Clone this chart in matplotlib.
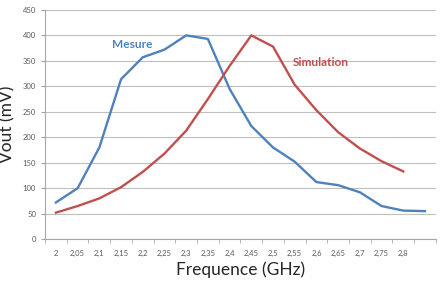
import matplotlib
matplotlib.use("Agg")
import matplotlib.pyplot as plt
import numpy as np

plt.rcParams["font.family"] = ["Lato", "DejaVu Sans"]

freq_labels = ['2', '2,05', '2,1', '2,15', '2,2', '2,25', '2,3', '2,35', '2,4', '2,45',
               '2,5', '2,55', '2,6', '2,65', '2,7', '2,75', '2,8', '']
mesure = [72, 100, 180, 314, 357, 372, 400, 393, 295, 222,
          180, 152, 112, 106, 92, 65, 56, 55]
simulation = [52, 65, 80, 102, 132, 168, 213, 275, 340, 400,
              378, 303, 253, 210, 178, 153, 133]

blue = '#4F81BD'
red = '#C0504D'

fig = plt.figure(figsize=(4.42, 2.83), dpi=100)
ax = fig.add_axes([0.102, 0.155, 0.884, 0.81])

x_m = np.arange(len(mesure))
x_s = np.arange(len(simulation))
ax.plot(x_m, mesure, color=blue, lw=1.7, solid_joinstyle='round')
ax.plot(x_s, simulation, color=red, lw=1.7, solid_joinstyle='round')

ax.set_xlim(-0.5, len(freq_labels) - 0.5)
ax.set_ylim(0, 450)
ax.set_yticks(np.arange(0, 451, 50))
ax.yaxis.grid(True, color='#BFBFBF', lw=0.8)
ax.set_axisbelow(True)

ax.set_xticks(np.arange(len(freq_labels)))
ax.set_xticklabels(freq_labels)
ax.set_xticks(np.arange(-0.5, len(freq_labels)), minor=True)
ax.tick_params(axis='x', which='major', length=0, labelsize=5.5, labelcolor='#595959', pad=8)
ax.tick_params(axis='x', which='minor', length=3, color='#A6A6A6', direction='out')
ax.tick_params(axis='y', length=3, color='#A6A6A6', labelsize=5.5, labelcolor='#595959')

for s in ['top', 'right']:
    ax.spines[s].set_visible(False)
for s in ['left', 'bottom']:
    ax.spines[s].set_color('#A6A6A6')
    ax.spines[s].set_linewidth(0.8)

ax.text(3.5, 382, 'Mesure', color=blue, fontsize=8.6, fontweight='bold', ha='center', va='center')
ax.text(12.2, 347, 'Simulation', color=red, fontsize=8.6, fontweight='bold', ha='center', va='center')

ax.set_xlabel('Frequence (GHz)', fontsize=12.5, color='#262626', labelpad=3)
ax.set_ylabel('Vout (mV)', fontsize=12.5, color='#262626', labelpad=5)

fig.savefig('out.png', dpi=100)
